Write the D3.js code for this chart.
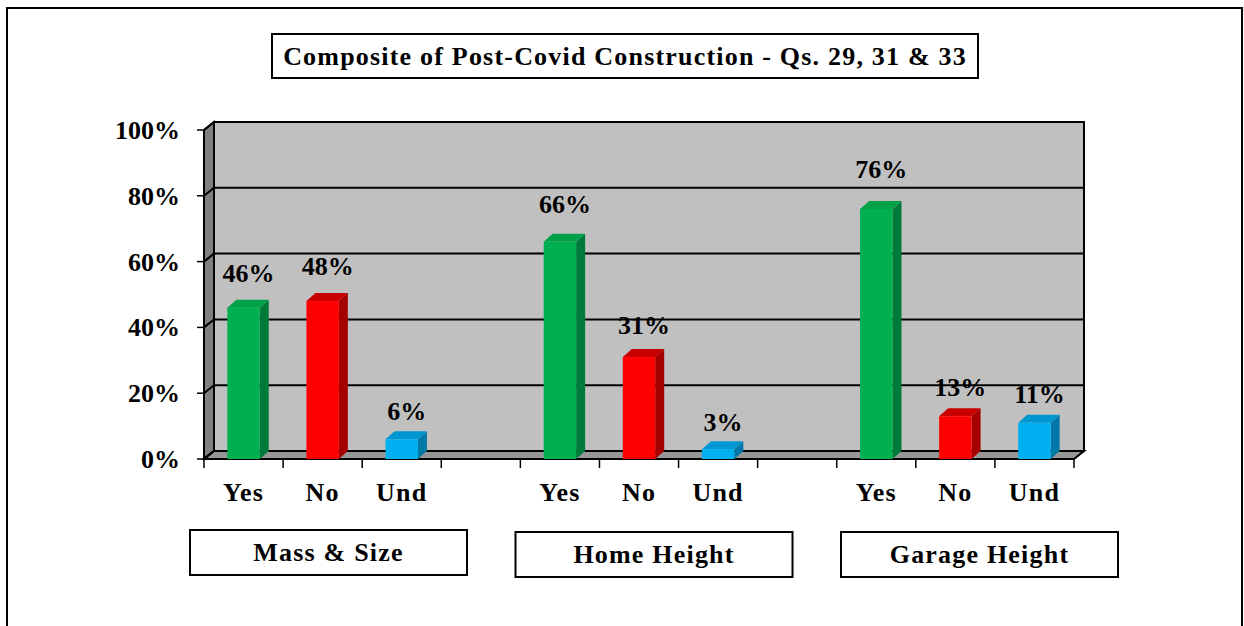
<!DOCTYPE html>
<html>
<head>
<meta charset="utf-8">
<script src="https://cdn.jsdelivr.net/npm/d3@7"></script>
<style>
  body { margin: 0; background: #fff; }
  text { font-family: "Liberation Serif", "Times New Roman", serif; font-weight: bold; fill: #000; }
  .wide { letter-spacing: 1.2px; }
</style>
</head>
<body>
<div id="chart"></div>
<script>
/************************
 *  Data
 ************************/
const chartTitle = "Composite of Post-Covid Construction - Qs. 29, 31 & 33";
const groups = ["Mass & Size", "Home Height", "Garage Height"];
const answers = ["Yes", "No", "Und"];
const yesValues = [46, 66, 76];
const noValues = [48, 31, 13];
const undValues = [6, 3, 11];
const yTicks = [0, 20, 40, 60, 80, 100];

/************************
 *  Config
 ************************/
const width = 1244, height = 626;
const frontLeft = 204, frontRight = 1074, frontTop = 130, frontBottom = 459;
const wallDx = 10, wallDy = -8;   // depth of the walls
const barDx = 9, barDy = -8;      // depth of each bar
const fontSize = 26;

const colors = {
  Yes: { front: "#00B050", side: "#007A3A", top: "#00A048" },
  No:  { front: "#FF0000", side: "#A50000", top: "#C80000" },
  Und: { front: "#00B0F0", side: "#0079A8", top: "#0096D2" }
};

// slots: 3 answers per group, with one empty slot between groups
const slots = [];
const bars = [];
groups.forEach((g, gi) => {
  if (gi > 0) slots.push("gap" + gi);
  answers.forEach((a, ai) => {
    const key = g + "|" + a;
    slots.push(key);
    const v = [yesValues, noValues, undValues][ai][gi];
    bars.push({ key, group: g, answer: a, value: v });
  });
});

const x = d3.scaleBand().domain(slots).range([frontLeft, frontRight]).padding(0);
const y = d3.scaleLinear().domain([0, 100]).range([frontBottom, frontTop]);
const barW = x.bandwidth() * 0.41;

const svg = d3.select("#chart").append("svg")
  .attr("width", width).attr("height", height);

// outer frame
svg.append("rect")
  .attr("x", 7).attr("y", 8).attr("width", 1235).attr("height", 640)
  .attr("fill", "none").attr("stroke", "#000").attr("stroke-width", 2);

// title box
const titleG = svg.append("g");
titleG.append("rect")
  .attr("x", 272).attr("y", 34).attr("width", 706).attr("height", 44)
  .attr("fill", "#fff").attr("stroke", "#000").attr("stroke-width", 2);
titleG.append("text")
  .attr("class", "wide")
  .attr("x", 625).attr("y", 65)
  .attr("text-anchor", "middle")
  .style("font-size", fontSize + "px")
  .text(chartTitle);

/************************
 *  Walls & floor
 ************************/
const backL = frontLeft + wallDx, backR = frontRight + wallDx;
const backT = y(100) + wallDy, backB = y(0) + wallDy;

svg.append("rect")
  .attr("x", backL).attr("y", backT)
  .attr("width", backR - backL).attr("height", backB - backT)
  .attr("fill", "#C0C0C0").attr("stroke", "#000").attr("stroke-width", 2);

svg.append("polygon")
  .attr("points", [[frontLeft, y(100)], [backL, backT], [backL, backB], [frontLeft, y(0)]].join(" "))
  .attr("fill", "#808080").attr("stroke", "#000").attr("stroke-width", 2);

svg.append("polygon")
  .attr("points", [[frontLeft, y(0)], [backL, backB], [backR, backB], [frontRight, y(0)]].join(" "))
  .attr("fill", "#969696").attr("stroke", "#000").attr("stroke-width", 2);

// gridlines (back wall + side wall diagonals)
svg.selectAll(".grid").data(yTicks).enter().append("path")
  .attr("class", "grid")
  .attr("d", d => `M${frontLeft},${y(d)}L${backL},${y(d) + wallDy}L${backR},${y(d) + wallDy}`)
  .attr("fill", "none").attr("stroke", "#000").attr("stroke-width", 2);

// y ticks and labels
svg.selectAll(".ytick").data(yTicks).enter().append("line")
  .attr("x1", frontLeft - 7).attr("x2", frontLeft)
  .attr("y1", d => y(d)).attr("y2", d => y(d))
  .attr("stroke", "#000").attr("stroke-width", 1.5);

svg.selectAll(".ylab").data(yTicks).enter().append("text")
  .attr("x", 180).attr("y", d => y(d) + 9)
  .attr("text-anchor", "end")
  .style("font-size", fontSize + "px")
  .text(d => d + "%");

// x ticks at slot boundaries
const xEdges = slots.map(s => x(s)).concat([frontRight]);
svg.selectAll(".xtick").data(xEdges).enter().append("line")
  .attr("x1", d => d).attr("x2", d => d)
  .attr("y1", y(0)).attr("y2", y(0) + 9)
  .attr("stroke", "#000").attr("stroke-width", 1.5);

/************************
 *  Bars
 ************************/
const barG = svg.selectAll(".bar").data(bars).enter().append("g").attr("class", "bar");

function bx(d) { return x(d.key) + (x.bandwidth() - barW) / 2; }

barG.append("polygon")  // side
  .attr("points", d => {
    const x1 = bx(d) + barW, t = y(d.value), b = y(0);
    return [[x1, t], [x1 + barDx, t + barDy], [x1 + barDx, b + barDy], [x1, b]].join(" ");
  })
  .attr("fill", d => colors[d.answer].side);

barG.append("polygon")  // top
  .attr("points", d => {
    const x0 = bx(d), t = y(d.value);
    return [[x0, t], [x0 + barDx, t + barDy], [x0 + barW + barDx, t + barDy], [x0 + barW, t]].join(" ");
  })
  .attr("fill", d => colors[d.answer].top);

barG.append("rect")  // front
  .attr("x", d => bx(d)).attr("y", d => y(d.value))
  .attr("width", barW).attr("height", d => y(0) - y(d.value))
  .attr("fill", d => colors[d.answer].front);

barG.append("text")
  .attr("x", d => bx(d) + barW / 2 + 5)
  .attr("y", d => y(d.value) + barDy - (10 + d.value * 0.17))
  .attr("text-anchor", "middle")
  .style("font-size", fontSize + "px")
  .text(d => d.value + "%");

// category labels
svg.selectAll(".xlab").data(bars).enter().append("text")
  .attr("class", "wide")
  .attr("x", d => x(d.key) + x.bandwidth() / 2)
  .attr("y", 501)
  .attr("text-anchor", "middle")
  .style("font-size", fontSize + "px")
  .text(d => d.answer);

/************************
 *  Group boxes
 ************************/
const boxW = 277, boxH = 45;
const boxCenter = d3.scaleLinear().domain([0, groups.length - 1]).range([328.5, 979.5]);
const boxTop = [530, 532, 532];

const boxG = svg.selectAll(".gbox").data(groups).enter().append("g");
boxG.append("rect")
  .attr("x", (d, i) => boxCenter(i) - boxW / 2).attr("y", (d, i) => boxTop[i])
  .attr("width", boxW).attr("height", boxH)
  .attr("fill", "#fff").attr("stroke", "#000").attr("stroke-width", 2);
boxG.append("text")
  .attr("class", "wide")
  .attr("x", (d, i) => boxCenter(i)).attr("y", (d, i) => boxTop[i] + 31)
  .attr("text-anchor", "middle")
  .style("font-size", fontSize + "px")
  .text(d => d);
</script>
</body>
</html>
